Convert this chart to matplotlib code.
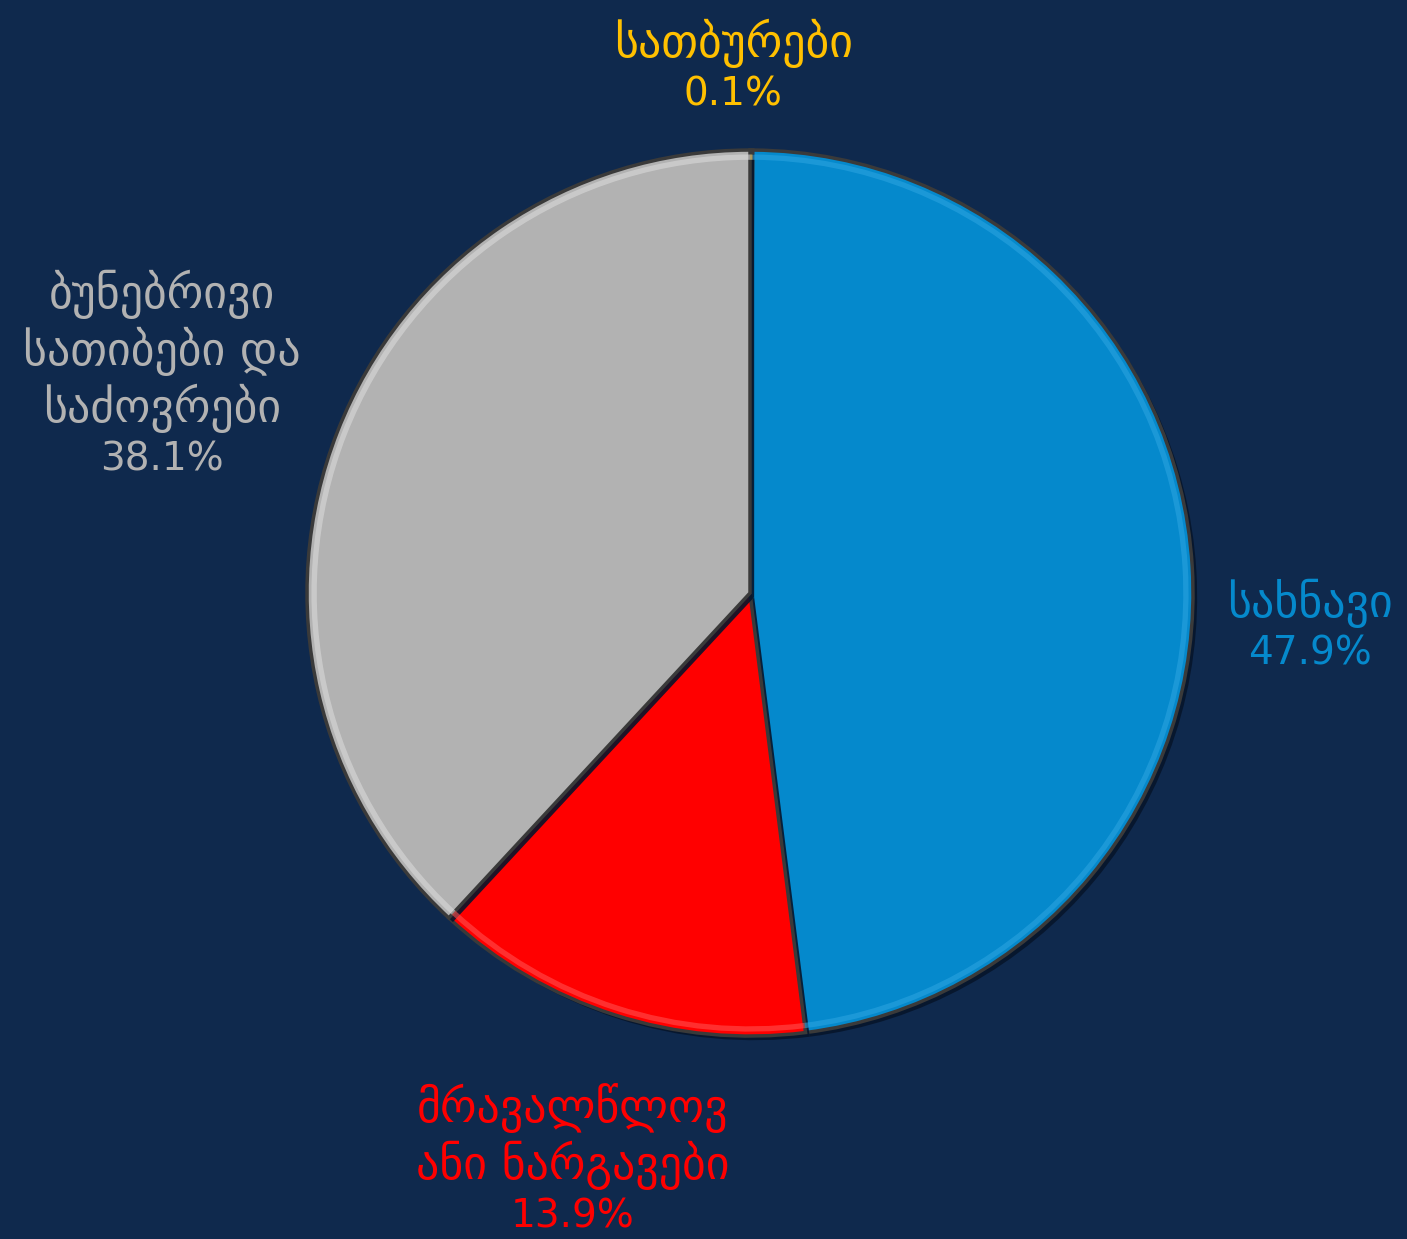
import matplotlib
matplotlib.use("Agg")
import matplotlib.pyplot as plt
import matplotlib.patheffects as pe

plt.rcParams["font.family"] = ["DejaVu Sans"]

labels = ["სათბურები", "სახნავი", "მრავალწლოვ\nანი ნარგავები", "ბუნებრივი\nსათიბები და\nსაძოვრები"]
values = [0.1, 47.9, 13.9, 38.1]
colors = ["#ffc000", "#0589cc", "#ff0000", "#b2b2b2"]
highlights = ["#ffe080", "#2aa3e0", "#ff5050", "#dadada"]
label_pos = [(-0.038, 1.185), (1.264, -0.079), (-0.40, -1.348), (-1.327, 0.361)]

bg = "#0f294d"
fig = plt.figure(figsize=(14.07, 12.39), dpi=100, facecolor=bg)
ax = fig.add_axes([0.2182, 0.1638, 0.6297, 0.7151])
ax.set_facecolor(bg)

wedges, _ = ax.pie(values, colors=colors, startangle=90, counterclock=False,
                   radius=1.0, wedgeprops=dict(linewidth=2.5, edgecolor="#3a3a3a"))
for w in wedges:
    w.set_path_effects([pe.SimplePatchShadow(offset=(3, -3), shadow_rgbFace="#07152b", alpha=0.9),
                        pe.Normal()])

# soft bevel highlight just inside the rim
rim, _ = ax.pie(values, colors=["none"] * 4, startangle=90, counterclock=False,
                radius=0.99, wedgeprops=dict(width=0.012, linewidth=0))
for r, h in zip(rim, highlights):
    r.set_facecolor(h)
    r.set_alpha(0.6)

ax.set_xlim(-1, 1)
ax.set_ylim(-1, 1)
ax.set_aspect("equal")
ax.axis("off")

total = sum(values)
for lab, v, c, (x, y) in zip(labels, values, colors, label_pos):
    ax.annotate(lab, (x, y), xytext=(0, 0), textcoords="offset points",
                color=c, fontsize=33, ha="center", va="bottom",
                linespacing=1.2, annotation_clip=False)
    ax.annotate(f"{v / total * 100:.1f}%", (x, y), xytext=(0, -5), textcoords="offset points",
                color=c, fontsize=28, ha="center", va="top", annotation_clip=False)

fig.savefig("out.png", dpi=100, facecolor=bg)
